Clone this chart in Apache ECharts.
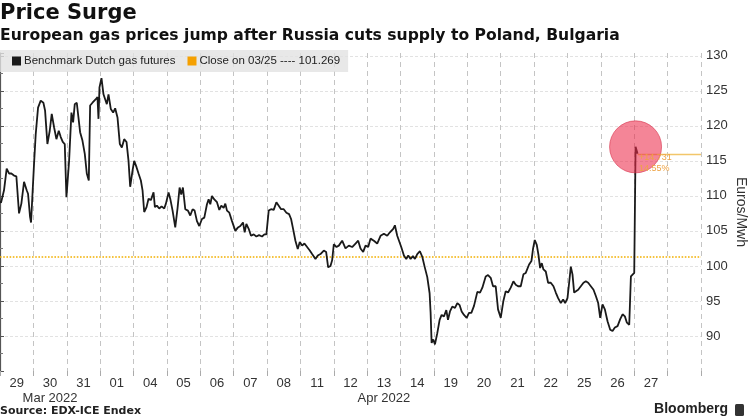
<!DOCTYPE html>
<html>
<head>
<meta charset="utf-8">
<script src="https://cdn.jsdelivr.net/npm/echarts@6/dist/echarts.min.js"></script>
<style>
html,body{margin:0;padding:0;background:#fff;}
#chart{width:750px;height:418px;}
</style>
</head>
<body>
<div id="chart"></div>
<script>
// ---- data ----
const dayLabels = ['29','30','31','01','04','05','06','07','08','11','12','13','14','19','20','21','22','25','26','27',''];
const monthAt = [1, 11];
const monthNames = ['Mar 2022', 'Apr 2022'];

// position in trading days (0 = start of 29 Mar band), price in EUR/MWh
const dayPos = [
0.00,0.03,0.12,0.20,0.27,0.34,0.42,0.49,0.57,0.64,0.72,0.80,0.84,0.90,0.93,0.96,
1.02,1.07,1.14,1.22,1.30,1.35,1.42,1.49,1.55,1.62,1.69,1.76,1.82,1.88,1.94,1.99,
2.07,2.14,2.19,2.24,2.30,2.35,2.40,2.47,2.54,2.60,2.66,2.70,2.77,2.82,2.87,2.92,2.95,2.98,
3.04,3.10,3.15,3.20,3.25,3.32,3.39,3.45,3.52,3.59,3.65,3.72,3.79,3.85,3.90,3.97,
4.02,4.09,4.15,4.22,4.27,4.32,4.39,4.45,4.52,4.60,4.64,4.70,4.77,4.84,4.92,4.97,
5.05,5.10,5.17,5.25,5.32,5.38,5.43,5.48,5.55,5.63,5.70,5.77,5.83,5.90,5.97,
6.05,6.12,6.20,6.25,6.30,6.35,6.42,6.50,6.57,6.63,6.70,6.75,6.80,6.87,6.95,
7.05,7.13,7.20,7.28,7.33,7.38,7.45,7.52,7.60,7.68,7.76,7.85,7.92,7.98,
8.05,8.12,8.20,8.28,8.35,8.42,8.50,8.58,8.66,8.72,8.78,8.85,8.92,8.98,
9.05,9.12,9.20,9.28,9.35,9.45,9.52,9.60,9.70,9.77,9.83,9.90,9.95,
10.00,10.08,10.15,10.25,10.35,10.45,10.55,10.65,10.73,10.80,10.88,10.95,
11.03,11.10,11.20,11.30,11.40,11.50,11.60,11.68,11.78,11.83,11.90,11.95,
12.02,12.10,12.17,12.23,12.30,12.37,12.43,12.50,12.58,12.65,12.72,12.80,12.87,12.90,12.93,12.98,
13.03,13.10,13.17,13.23,13.30,13.37,13.42,13.48,13.55,13.63,13.70,13.77,13.83,13.90,13.98,
14.05,14.12,14.20,14.30,14.38,14.45,14.55,14.62,14.70,14.77,14.85,14.92,
15.00,15.08,15.15,15.22,15.30,15.38,15.45,15.52,15.60,15.68,15.75,15.85,15.92,15.97,
16.02,16.08,16.13,16.18,16.23,16.28,16.35,16.42,16.50,16.58,16.65,16.72,16.80,16.87,16.93,
17.00,17.05,17.10,17.15,17.20,17.25,17.32,17.40,17.48,17.55,17.62,17.70,17.78,17.85,17.92,17.98,
18.05,18.12,18.20,18.28,18.35,18.42,18.50,18.58,18.65,18.72,18.78,18.85,18.90,18.95,
19.00,19.04,19.07,19.10
];
const prices = [
109.3,109.0,110.8,113.9,113.2,113.2,112.9,112.8,107.5,108.9,112.0,110.8,110.3,107.0,106.2,106.3,
114.6,118.8,122.6,123.6,123.3,122.2,117.4,119.3,121.7,119.8,118.1,119.3,118.4,117.7,117.4,109.8,
115.0,121.9,120.5,123.1,123.3,121.2,119.1,117.9,116.0,113.2,112.2,122.9,123.3,123.1,123.8,124.1,121.0,125.5,
126.8,124.5,123.8,123.1,124.5,122.4,121.9,122.5,121.2,117.4,116.9,118.1,117.7,115.0,111.3,113.6,
115.0,114.1,113.2,112.2,110.8,107.7,108.4,109.6,109.4,110.5,108.4,108.6,108.2,108.5,108.2,108.9,
110.5,109.6,107.9,105.5,108.3,111.2,110.2,111.2,108.1,107.9,107.2,108.1,107.9,106.4,105.7,
106.7,106.9,108.8,109.5,108.8,110.0,109.5,109.1,108.0,108.6,108.3,108.9,107.9,107.6,106.4,
105.0,105.5,105.7,106.2,104.8,106.0,105.3,104.3,104.5,104.2,104.4,104.2,104.5,104.5,
107.9,108.1,108.0,109.1,108.6,108.1,108.1,107.6,107.4,106.7,105.3,103.6,102.4,103.4,
102.9,103.2,102.7,102.2,101.7,101.0,101.5,101.7,102.2,102.0,99.8,100.0,100.8,
103.1,102.7,102.9,103.6,102.5,102.9,102.7,103.2,103.6,102.5,102.0,102.9,
102.7,103.9,103.6,103.2,104.3,104.6,104.3,104.8,105.3,105.8,104.3,104.1,
102.7,101.5,101.0,101.5,101.0,101.4,101.0,101.7,102.1,101.3,99.9,98.4,96.1,93.3,89.0,89.5,
88.8,90.4,92.3,93.0,92.8,93.7,92.3,93.5,94.2,94.0,94.7,94.4,93.5,93.0,92.6,
93.3,93.3,94.3,96.3,96.2,96.9,98.5,98.7,98.3,97.1,97.1,93.8,
92.6,95.0,96.4,96.2,96.9,97.8,97.3,97.1,97.1,98.8,99.0,100.2,100.7,102.5,
103.7,103.0,101.6,99.7,100.4,99.5,99.2,97.6,97.6,97.1,96.2,95.4,94.7,95.2,94.7,
95.4,97.6,99.9,98.8,96.2,96.2,96.6,97.1,97.6,97.8,97.6,97.1,96.6,95.7,94.7,92.6,
94.5,93.8,92.1,90.9,90.7,91.2,91.4,92.4,93.1,92.8,91.9,91.6,98.5,98.5,
99.0,117.0,116.5,116.0
];
const closeRef = 101.269;
const closeLabel = 'Close on 03/25 ---- 101.269';
const seriesName = 'Benchmark Dutch gas futures';

// ---- derived ----
const lineData = dayPos.map((d, i) => [d, prices[i]]);
const lastX = dayPos[dayPos.length - 1];
const lastY = prices[prices.length - 1];
let peakI = prices.length - 5;
for (let i = prices.length - 5; i < prices.length; i++) { if (prices[i] > prices[peakI]) peakI = i; }
const diff = lastY - closeRef;
const pct = diff / closeRef * 100;
const changeText = '+' + diff.toFixed(3) + '\n' + pct.toFixed(2) + '%';
const xMax = dayLabels.length;

const chart = echarts.init(document.getElementById('chart'), null, {renderer: 'canvas'});
const axisFont = 'Liberation Sans, Arial, sans-serif';
chart.setOption({
  animation: false,
  backgroundColor: '#ffffff',
  title: [
    {text: 'Price Surge', left: 0, top: 3, padding: 0,
     textStyle: {fontFamily: 'DejaVu Sans', fontWeight: 'bold', fontSize: 21, color: '#111'}},
    {text: 'European gas prices jump after Russia cuts supply to Poland, Bulgaria', left: 0, top: 28, padding: 0,
     textStyle: {fontFamily: 'DejaVu Sans', fontWeight: 'bold', fontSize: 15.6, color: '#111'}},
    {text: 'Source: EDX-ICE Endex', left: 0, top: 406, padding: 0,
     textStyle: {fontFamily: 'DejaVu Sans', fontWeight: 'bold', fontSize: 11, color: '#222'}},
    {text: 'Bloomberg', right: 22, top: 402, padding: 0,
     textStyle: {fontFamily: axisFont, fontWeight: 'bold', fontSize: 14, color: '#222'}}
  ],
  graphic: [
    {type: 'rect', right: 6, top: 404, shape: {width: 9, height: 12, r: 1.5}, style: {fill: '#333'}}
  ],
  legend: {
    left: 0, top: 50,
    backgroundColor: 'rgba(226,226,226,0.8)',
    padding: [5, 8, 5, 12],
    itemWidth: 9, itemHeight: 9, itemGap: 12,
    icon: 'rect',
    textStyle: {fontFamily: axisFont, fontSize: 11.5, color: '#222', padding: [0, 0, 0, -2]},
    data: [seriesName, closeLabel]
  },
  grid: {left: 0, right: 49, top: 53, bottom: 47, containLabel: false, outerBoundsMode: 'none'},
  xAxis: [
    {type: 'value', min: 0, max: xMax, show: false},
    {type: 'category', data: dayLabels, boundaryGap: true, position: 'bottom',
     axisLine: {show: false},
     axisTick: {show: true, interval: 0, alignWithLabel: false, length: 5, lineStyle: {color: '#aaa'}},
     splitLine: {show: true, interval: 0, lineStyle: {color: '#c4c4c4', type: [5, 4], width: 1}},
     axisLabel: {interval: 0, margin: 5, fontFamily: axisFont, fontSize: 13, color: '#333', lineHeight: 15,
       formatter: function (v, i) {
         const k = monthAt.indexOf(i);
         return k >= 0 ? v + '\n' + monthNames[k] : v;
       }}}
  ],
  yAxis: {
    type: 'value', position: 'right', min: 85, max: 130.4, interval: 5,
    axisLine: {show: true, lineStyle: {color: '#555', width: 1.2}},
    axisTick: {show: true, length: 4, lineStyle: {color: '#555'}},
    minorTick: {show: true, splitNumber: 2, length: 3, lineStyle: {color: '#777'}},
    axisLabel: {margin: 5, fontFamily: axisFont, fontSize: 13, color: '#333',
      formatter: function (v) { return (v >= 90 && Math.abs(v % 5) < 1e-6) ? String(v) : ''; }},
    splitLine: {show: true, showMinLine: false, showMaxLine: false, lineStyle: {color: '#e2e2e2', type: [3, 2]}},
    name: 'Euros/Mwh', nameLocation: 'middle', nameRotate: -90, nameGap: 40, nameMoveOverlap: false,
    nameTextStyle: {fontFamily: axisFont, fontSize: 14, color: '#333', align: 'center', verticalAlign: 'middle'}
  },
  series: [
    {
      name: seriesName, type: 'line', xAxisIndex: 0, data: lineData,
      symbol: 'none', color: '#1a1a1a',
      lineStyle: {color: '#1a1a1a', width: 1.8}, z: 3,
      markLine: {
        silent: true, symbol: 'none',
        lineStyle: {color: '#f2c66a', type: 'solid', width: 1.3},
        label: {show: false},
        data: [[{coord: [lastX, lastY]}, {coord: [xMax, lastY]}]]
      },
      markPoint: {
        silent: true,
        data: [
          {coord: [dayPos[peakI], prices[peakI]], symbol: 'circle', symbolSize: 52,
           itemStyle: {color: 'rgba(236,45,75,0.58)', borderColor: 'rgba(215,50,75,0.6)', borderWidth: 1},
           label: {show: false}},
          {coord: [lastX, lastY], symbol: 'circle', symbolSize: 1,
           itemStyle: {color: 'rgba(0,0,0,0)'},
           label: {show: true, position: 'right', distance: 1, offset: [0, 9], formatter: changeText,
             fontFamily: axisFont, fontSize: 9, lineHeight: 11, color: '#eda345', align: 'left'}}
        ]
      }
    },
    {
      name: closeLabel, type: 'line', xAxisIndex: 0,
      data: [[0, closeRef], [xMax, closeRef]],
      symbol: 'none', color: '#f5a000',
      lineStyle: {color: '#f2b000', type: 'dotted', width: 1.6}, z: 2
    }
  ]
});
</script>
</body>
</html>
